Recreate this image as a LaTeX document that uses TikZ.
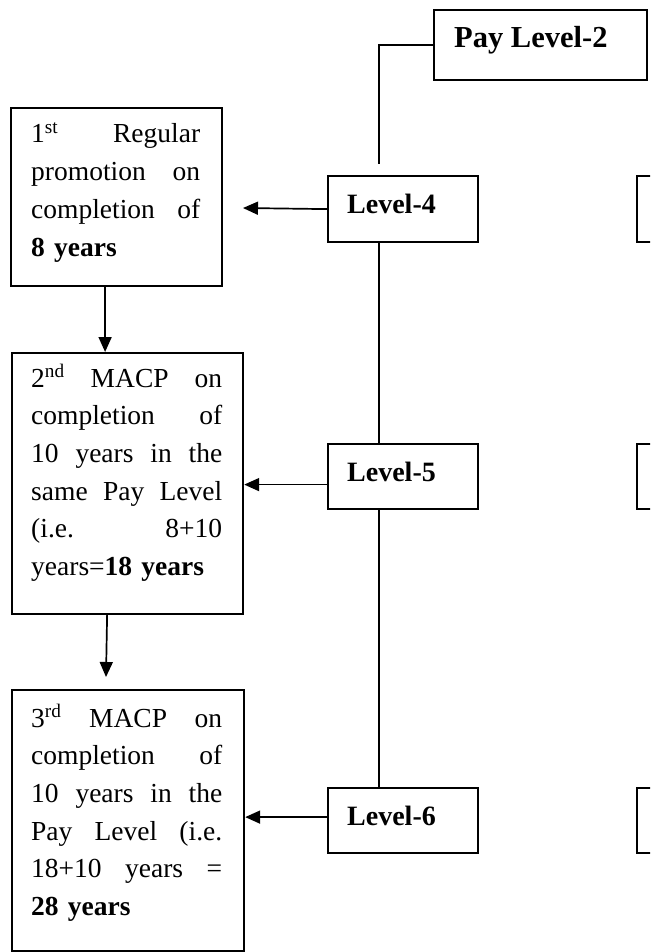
\documentclass[tikz,border=0pt]{standalone}
\usepackage{fontspec}
\setmainfont{Liberation Serif}
\usetikzlibrary{arrows.meta}
\begin{document}
\begin{tikzpicture}[x=1pt,y=-1pt,
  box/.style={draw, line width=2.2pt, inner sep=0pt, anchor=north west},
  conn/.style={line width=1.7pt},
  arr/.style={conn, -{Triangle[length=15pt,width=13pt]}},
  bodytxt/.style={anchor=base west, inner sep=0pt, align=left,
    font=\fontsize{27.5}{37.7}\selectfont},
  lvltxt/.style={anchor=base west, inner sep=0pt, font=\fontsize{28}{30}\selectfont\bfseries},
  paytxt/.style={anchor=base west, inner sep=0pt, font=\fontsize{30.5}{32}\selectfont\bfseries}]
\clip (0,0) rectangle (650,952);
\fill[white] (0,0) rectangle (650,952);
% boxes
\node[box, minimum width=213pt, minimum height=70pt] (pay) at (433,9) {};
\node[box, minimum width=150pt, minimum height=66pt] (l4) at (327,175) {};
\node[box, minimum width=150pt, minimum height=65pt] (l5) at (327,443) {};
\node[box, minimum width=150pt, minimum height=65pt] (l6) at (327,787) {};
\node[box, minimum width=211pt, minimum height=178pt] (b1) at (10,107) {};
\node[box, minimum width=231pt, minimum height=261pt] (b2) at (11,352) {};
\node[box, minimum width=232pt, minimum height=261pt] (b3) at (11,689) {};
\node[box, minimum width=40pt, minimum height=66pt] (r4) at (636,175) {};
\node[box, minimum width=40pt, minimum height=65pt] (r5) at (636,443) {};
\node[box, minimum width=40pt, minimum height=65pt] (r6) at (636,787) {};
% labels
\node[paytxt] (tpay) at (454,48) {Pay Level-2};
\node[lvltxt] (t4) at (347,213) {Level-4};
\node[lvltxt] (t5) at (347,481) {Level-5};
\node[lvltxt] (t6) at (347,825) {Level-6};
\node[bodytxt, text width=169pt] (tb1) at (31,143)
  {1\textsuperscript{st}\hfill Regular\\ promotion\hfill on\\ completion\hfill of\\ \textbf{8 years}};
\node[bodytxt, text width=191pt] (tb2) at (31,387)
  {2\textsuperscript{nd}\hfill MACP\hfill on\\ completion\hfill of\\ 10\hfill years\hfill in\hfill the\\ same\hfill Pay\hfill Level\\ (i.e.\hfill 8+10\\ years=\textbf{18 years}};
\node[bodytxt, text width=191pt] (tb3) at (31,727)
  {3\textsuperscript{rd}\hfill MACP\hfill on\\ completion\hfill of\\ 10\hfill years\hfill in\hfill the\\ Pay\hfill Level\hfill (i.e.\\ 18+10\hfill years\hfill =\\ \textbf{28 years}};
% trunk
\coordinate (t0) at (379,164);
\draw[conn] (pay.west) -| (t0);
\draw[conn] (l4.south -| t0) -- (l5.north -| t0);
\draw[conn] (l5.south -| t0) -- (l6.north -| t0);
% side arrows
\coordinate (a1) at (243,208);
\draw[arr] (l4.west) -- (a1);
\coordinate (p5) at ([yshift=-8pt]l5.west);
\draw[arr] (p5) -- (p5 -| b2.east);
\coordinate (p6) at ([yshift=3.5pt]l6.west);
\draw[arr] (p6) -- (p6 -| b3.east);
% down arrows
\coordinate (d1) at ([xshift=-11.5pt]b1.south);
\draw[arr] (d1) -- (d1 |- b2.north);
\coordinate (d2) at ([xshift=-20.5pt]b2.south);
\coordinate (e2) at (106,677);
\draw[arr] (d2) -- (e2);
\end{tikzpicture}
\end{document}
